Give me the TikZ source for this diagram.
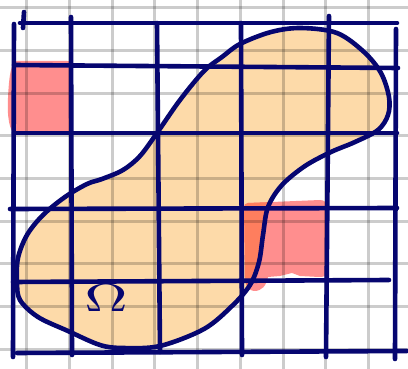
\documentclass[tikz,border=0pt]{standalone}
\usepackage{tikz}
\definecolor{navy}{RGB}{6,6,112}
\definecolor{peach}{RGB}{253,218,169}
\definecolor{salmon}{RGB}{255,142,142}
\definecolor{overlap}{RGB}{254,126,94}
\tikzset{
  gridline/.style={black,opacity=0.2,line width=3pt},
  ink/.style={navy,line width=4.6pt,line cap=round,line join=round},
}
\begin{document}
\begin{tikzpicture}[x=1pt,y=-1pt]
\useasboundingbox (0,0) rectangle (408,369);
\fill[white] (0,0) rectangle (408,369);
% blob fill
\def\blob{plot[smooth cycle,tension=0.55] coordinates {(301,28) (337,33) (364,52) (381,73) (389,97) (388,115) (378,130) (355,142) (331,152) (305,166) (282,185) (268,207) (263,235) (259,262) (250,285) (232,306) (204,329) (160,346) (123,348) (100,345) (68,331) (38,317) (20,300) (17,282) (18,258) (27,235) (43,215) (65,197) (87,184) (102,179) (123,170) (140,156) (157,133) (180,100) (204,71) (222,57) (240,44) (271,32)}}
\fill[peach] \blob;
% red patches
\fill[salmon] (17,61) -- (67,61) .. controls (71,61) and (72,63) .. (72,67) -- (72,134) -- (16,135) .. controls (9,132) and (7,115) .. (8,98) .. controls (9,76) and (11,62) .. (17,61) -- cycle;
\def\redtwo{(248,203) -- (320,200) .. controls (325,200) and (327,203) .. (327,208) -- (327,272) .. controls (327,276) and (324,277) .. (319,277) -- (300,276) -- (292,273) -- (280,276) -- (268,277) .. controls (266,286) and (262,291) .. (254,291) .. controls (247,290) and (245,284) .. (245,277) -- (244,208) .. controls (244,205) and (245,203) .. (248,203) -- cycle}
\fill[salmon] \redtwo;
\begin{scope}
\clip \blob;
\fill[overlap] \redtwo;
\end{scope}
% background grid
\foreach \x in {26,69,112,154,197,240,283,325,368} \draw[gridline] (\x,0) -- (\x,369);
\foreach \y in {8,51,94,136,179,222,264,307,350} \draw[gridline] (0,\y) -- (408,\y);
% navy grid
\draw[ink] (20,23) -- (397,23);
\draw[ink] (24,12) -- (23,28);
\draw[ink] (14,65) -- (398,68);
\draw[ink] (14,133) -- (397,133);
\draw[ink] (10,209) -- (397,208);
\draw[ink] (13,282) -- (389,280);
\draw[ink] (17,353) -- (407,351);
\draw[ink] (14,24) -- (13,357);
\draw[ink] (71,17) -- (72,355);
\draw[ink] (157,23) -- (160,352);
\draw[ink] (241,23) -- (242,355);
\draw[ink] (329,16) -- (326,357);
\draw[ink] (396,29) -- (395,359);
% blob outline
\draw[ink] \blob;
\node[text=navy,inner sep=0pt,xscale=6,yscale=3.9] (omega) at (106,298) {$\Omega$};
\end{tikzpicture}
\end{document}
